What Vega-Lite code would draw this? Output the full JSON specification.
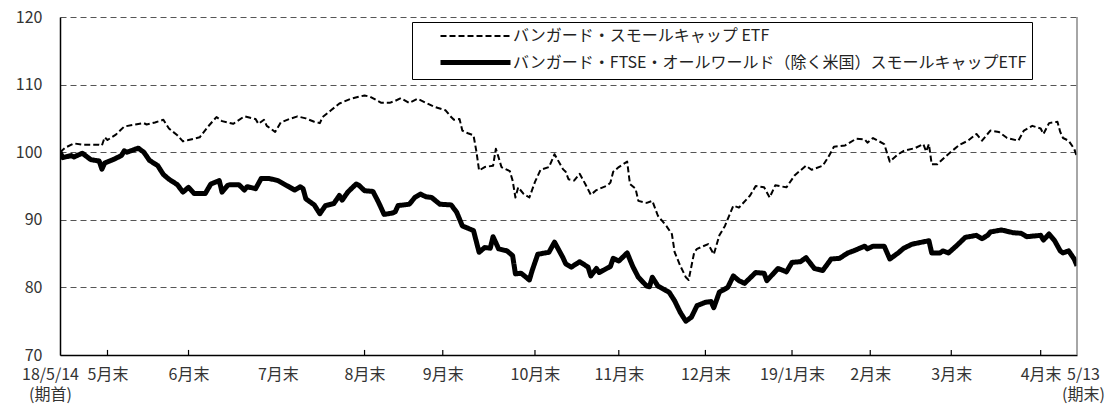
{
"$schema":"https://vega.github.io/schema/vega-lite/v6.json",
"width":1017,"height":338,
"autosize":"none",
"padding":{"left":60,"top":17,"right":30,"bottom":49},
"background":"white",
"config":{"view":{"stroke":null},"font":"Noto Sans CJK JP"},
"data":{"values":[
{"d":"2018-05-14","s":"a","v":100.0},{"d":"2018-05-16","s":"a","v":100.7},{"d":"2018-05-19","s":"a","v":101.3},{"d":"2018-05-22","s":"a","v":101.1},{"d":"2018-05-28","s":"a","v":101.1},{"d":"2018-05-29","s":"a","v":101.0},{"d":"2018-05-30","s":"a","v":102.2},{"d":"2018-05-31","s":"a","v":101.8},{"d":"2018-06-03","s":"a","v":102.6},{"d":"2018-06-06","s":"a","v":103.8},{"d":"2018-06-10","s":"a","v":104.1},{"d":"2018-06-13","s":"a","v":104.3},{"d":"2018-06-14","s":"a","v":104.1},{"d":"2018-06-17","s":"a","v":104.4},{"d":"2018-06-20","s":"a","v":104.8},{"d":"2018-06-22","s":"a","v":103.5},{"d":"2018-06-25","s":"a","v":102.5},{"d":"2018-06-27","s":"a","v":101.6},{"d":"2018-06-29","s":"a","v":101.8},{"d":"2018-07-03","s":"a","v":102.2},{"d":"2018-07-06","s":"a","v":103.8},{"d":"2018-07-09","s":"a","v":105.2},{"d":"2018-07-11","s":"a","v":104.6},{"d":"2018-07-15","s":"a","v":104.2},{"d":"2018-07-19","s":"a","v":105.3},{"d":"2018-07-23","s":"a","v":104.9},{"d":"2018-07-24","s":"a","v":104.2},{"d":"2018-07-26","s":"a","v":104.8},{"d":"2018-07-27","s":"a","v":103.9},{"d":"2018-07-30","s":"a","v":103.0},{"d":"2018-08-01","s":"a","v":104.4},{"d":"2018-08-04","s":"a","v":104.9},{"d":"2018-08-07","s":"a","v":105.3},{"d":"2018-08-10","s":"a","v":105.0},{"d":"2018-08-13","s":"a","v":104.5},{"d":"2018-08-15","s":"a","v":104.3},{"d":"2018-08-16","s":"a","v":105.2},{"d":"2018-08-19","s":"a","v":106.2},{"d":"2018-08-22","s":"a","v":107.2},{"d":"2018-08-26","s":"a","v":107.9},{"d":"2018-08-31","s":"a","v":108.4},{"d":"2018-09-02","s":"a","v":108.2},{"d":"2018-09-06","s":"a","v":107.3},{"d":"2018-09-09","s":"a","v":107.3},{"d":"2018-09-11","s":"a","v":107.6},{"d":"2018-09-13","s":"a","v":108.0},{"d":"2018-09-16","s":"a","v":107.3},{"d":"2018-09-19","s":"a","v":107.9},{"d":"2018-09-22","s":"a","v":107.3},{"d":"2018-09-25","s":"a","v":106.7},{"d":"2018-09-29","s":"a","v":106.2},{"d":"2018-10-01","s":"a","v":105.2},{"d":"2018-10-02","s":"a","v":104.8},{"d":"2018-10-04","s":"a","v":104.9},{"d":"2018-10-05","s":"a","v":103.2},{"d":"2018-10-07","s":"a","v":102.8},{"d":"2018-10-09","s":"a","v":102.5},{"d":"2018-10-10","s":"a","v":100.2},{"d":"2018-10-11","s":"a","v":97.3},{"d":"2018-10-13","s":"a","v":97.8},{"d":"2018-10-16","s":"a","v":98.0},{"d":"2018-10-17","s":"a","v":100.5},{"d":"2018-10-18","s":"a","v":99.2},{"d":"2018-10-19","s":"a","v":97.8},{"d":"2018-10-22","s":"a","v":97.2},{"d":"2018-10-23","s":"a","v":95.8},{"d":"2018-10-24","s":"a","v":93.3},{"d":"2018-10-25","s":"a","v":94.8},{"d":"2018-10-27","s":"a","v":93.8},{"d":"2018-10-29","s":"a","v":93.3},{"d":"2018-10-31","s":"a","v":95.6},{"d":"2018-11-02","s":"a","v":97.4},{"d":"2018-11-05","s":"a","v":97.8},{"d":"2018-11-07","s":"a","v":99.7},{"d":"2018-11-10","s":"a","v":97.5},{"d":"2018-11-11","s":"a","v":97.1},{"d":"2018-11-12","s":"a","v":96.0},{"d":"2018-11-14","s":"a","v":95.8},{"d":"2018-11-16","s":"a","v":96.8},{"d":"2018-11-18","s":"a","v":95.3},{"d":"2018-11-20","s":"a","v":93.7},{"d":"2018-11-22","s":"a","v":94.4},{"d":"2018-11-26","s":"a","v":95.1},{"d":"2018-11-27","s":"a","v":95.5},{"d":"2018-11-28","s":"a","v":97.1},{"d":"2018-11-30","s":"a","v":97.8},{"d":"2018-12-03","s":"a","v":98.6},{"d":"2018-12-04","s":"a","v":95.3},{"d":"2018-12-06","s":"a","v":94.6},{"d":"2018-12-07","s":"a","v":92.8},{"d":"2018-12-10","s":"a","v":92.5},{"d":"2018-12-12","s":"a","v":92.8},{"d":"2018-12-14","s":"a","v":90.6},{"d":"2018-12-17","s":"a","v":89.1},{"d":"2018-12-19","s":"a","v":87.9},{"d":"2018-12-20","s":"a","v":85.2},{"d":"2018-12-22","s":"a","v":83.2},{"d":"2018-12-24","s":"a","v":81.5},{"d":"2018-12-25","s":"a","v":81.1},{"d":"2018-12-27","s":"a","v":85.2},{"d":"2018-12-28","s":"a","v":85.7},{"d":"2019-01-01","s":"a","v":86.4},{"d":"2019-01-03","s":"a","v":84.9},{"d":"2019-01-05","s":"a","v":87.7},{"d":"2019-01-07","s":"a","v":89.1},{"d":"2019-01-10","s":"a","v":92.1},{"d":"2019-01-12","s":"a","v":91.8},{"d":"2019-01-16","s":"a","v":93.6},{"d":"2019-01-18","s":"a","v":95.0},{"d":"2019-01-21","s":"a","v":94.8},{"d":"2019-01-23","s":"a","v":93.3},{"d":"2019-01-25","s":"a","v":95.1},{"d":"2019-01-29","s":"a","v":94.8},{"d":"2019-02-01","s":"a","v":96.6},{"d":"2019-02-05","s":"a","v":98.0},{"d":"2019-02-07","s":"a","v":97.4},{"d":"2019-02-11","s":"a","v":98.0},{"d":"2019-02-13","s":"a","v":99.3},{"d":"2019-02-15","s":"a","v":100.8},{"d":"2019-02-19","s":"a","v":101.0},{"d":"2019-02-23","s":"a","v":102.0},{"d":"2019-02-26","s":"a","v":101.9},{"d":"2019-02-27","s":"a","v":101.4},{"d":"2019-03-01","s":"a","v":102.1},{"d":"2019-03-05","s":"a","v":101.2},{"d":"2019-03-07","s":"a","v":98.6},{"d":"2019-03-10","s":"a","v":99.7},{"d":"2019-03-12","s":"a","v":100.2},{"d":"2019-03-16","s":"a","v":100.6},{"d":"2019-03-19","s":"a","v":101.2},{"d":"2019-03-20","s":"a","v":100.1},{"d":"2019-03-21","s":"a","v":101.2},{"d":"2019-03-22","s":"a","v":98.2},{"d":"2019-03-24","s":"a","v":98.2},{"d":"2019-03-26","s":"a","v":99.0},{"d":"2019-03-29","s":"a","v":100.1},{"d":"2019-04-01","s":"a","v":101.1},{"d":"2019-04-04","s":"a","v":101.7},{"d":"2019-04-07","s":"a","v":102.7},{"d":"2019-04-09","s":"a","v":101.7},{"d":"2019-04-12","s":"a","v":103.2},{"d":"2019-04-15","s":"a","v":103.0},{"d":"2019-04-18","s":"a","v":102.1},{"d":"2019-04-22","s":"a","v":101.7},{"d":"2019-04-24","s":"a","v":103.2},{"d":"2019-04-27","s":"a","v":103.9},{"d":"2019-04-30","s":"a","v":103.5},{"d":"2019-05-01","s":"a","v":102.7},{"d":"2019-05-03","s":"a","v":104.3},{"d":"2019-05-06","s":"a","v":104.5},{"d":"2019-05-07","s":"a","v":103.0},{"d":"2019-05-08","s":"a","v":102.1},{"d":"2019-05-10","s":"a","v":101.7},{"d":"2019-05-12","s":"a","v":100.5},{"d":"2019-05-13","s":"a","v":99.3},
{"d":"2018-05-14","s":"b","v":100.0},{"d":"2018-05-15","s":"b","v":99.2},{"d":"2018-05-18","s":"b","v":99.5},{"d":"2018-05-19","s":"b","v":99.3},{"d":"2018-05-22","s":"b","v":99.85},{"d":"2018-05-25","s":"b","v":98.9},{"d":"2018-05-28","s":"b","v":98.7},{"d":"2018-05-29","s":"b","v":97.5},{"d":"2018-05-30","s":"b","v":98.4},{"d":"2018-06-02","s":"b","v":98.9},{"d":"2018-06-05","s":"b","v":99.5},{"d":"2018-06-06","s":"b","v":100.2},{"d":"2018-06-07","s":"b","v":100.0},{"d":"2018-06-11","s":"b","v":100.6},{"d":"2018-06-13","s":"b","v":100.0},{"d":"2018-06-15","s":"b","v":98.8},{"d":"2018-06-18","s":"b","v":98.0},{"d":"2018-06-20","s":"b","v":96.7},{"d":"2018-06-22","s":"b","v":96.0},{"d":"2018-06-25","s":"b","v":95.2},{"d":"2018-06-27","s":"b","v":94.1},{"d":"2018-06-29","s":"b","v":94.8},{"d":"2018-07-01","s":"b","v":93.9},{"d":"2018-07-05","s":"b","v":93.9},{"d":"2018-07-07","s":"b","v":95.3},{"d":"2018-07-10","s":"b","v":95.8},{"d":"2018-07-11","s":"b","v":94.1},{"d":"2018-07-13","s":"b","v":95.1},{"d":"2018-07-14","s":"b","v":95.2},{"d":"2018-07-17","s":"b","v":95.2},{"d":"2018-07-19","s":"b","v":94.4},{"d":"2018-07-20","s":"b","v":94.9},{"d":"2018-07-23","s":"b","v":94.6},{"d":"2018-07-25","s":"b","v":96.1},{"d":"2018-07-28","s":"b","v":96.1},{"d":"2018-07-31","s":"b","v":95.8},{"d":"2018-08-03","s":"b","v":95.1},{"d":"2018-08-06","s":"b","v":94.4},{"d":"2018-08-08","s":"b","v":94.9},{"d":"2018-08-09","s":"b","v":94.6},{"d":"2018-08-10","s":"b","v":93.1},{"d":"2018-08-13","s":"b","v":92.2},{"d":"2018-08-15","s":"b","v":90.9},{"d":"2018-08-17","s":"b","v":92.1},{"d":"2018-08-20","s":"b","v":92.4},{"d":"2018-08-22","s":"b","v":93.6},{"d":"2018-08-23","s":"b","v":92.9},{"d":"2018-08-25","s":"b","v":94.1},{"d":"2018-08-28","s":"b","v":95.3},{"d":"2018-08-29","s":"b","v":95.1},{"d":"2018-08-31","s":"b","v":94.3},{"d":"2018-09-03","s":"b","v":94.2},{"d":"2018-09-05","s":"b","v":92.6},{"d":"2018-09-07","s":"b","v":90.8},{"d":"2018-09-10","s":"b","v":91.0},{"d":"2018-09-11","s":"b","v":91.2},{"d":"2018-09-12","s":"b","v":92.1},{"d":"2018-09-16","s":"b","v":92.3},{"d":"2018-09-18","s":"b","v":93.3},{"d":"2018-09-20","s":"b","v":93.8},{"d":"2018-09-22","s":"b","v":93.4},{"d":"2018-09-24","s":"b","v":93.3},{"d":"2018-09-27","s":"b","v":92.3},{"d":"2018-10-01","s":"b","v":92.2},{"d":"2018-10-03","s":"b","v":91.1},{"d":"2018-10-05","s":"b","v":89.1},{"d":"2018-10-09","s":"b","v":88.4},{"d":"2018-10-11","s":"b","v":85.2},{"d":"2018-10-13","s":"b","v":85.9},{"d":"2018-10-15","s":"b","v":85.8},{"d":"2018-10-16","s":"b","v":87.5},{"d":"2018-10-18","s":"b","v":85.7},{"d":"2018-10-21","s":"b","v":85.4},{"d":"2018-10-23","s":"b","v":84.7},{"d":"2018-10-24","s":"b","v":82.0},{"d":"2018-10-26","s":"b","v":82.1},{"d":"2018-10-29","s":"b","v":81.1},{"d":"2018-10-30","s":"b","v":82.5},{"d":"2018-11-01","s":"b","v":84.9},{"d":"2018-11-05","s":"b","v":85.2},{"d":"2018-11-07","s":"b","v":86.7},{"d":"2018-11-10","s":"b","v":84.4},{"d":"2018-11-11","s":"b","v":83.5},{"d":"2018-11-13","s":"b","v":83.0},{"d":"2018-11-16","s":"b","v":83.8},{"d":"2018-11-19","s":"b","v":83.0},{"d":"2018-11-20","s":"b","v":81.7},{"d":"2018-11-22","s":"b","v":82.8},{"d":"2018-11-23","s":"b","v":82.2},{"d":"2018-11-27","s":"b","v":83.1},{"d":"2018-11-28","s":"b","v":84.3},{"d":"2018-11-30","s":"b","v":83.9},{"d":"2018-12-03","s":"b","v":85.1},{"d":"2018-12-05","s":"b","v":83.1},{"d":"2018-12-07","s":"b","v":81.5},{"d":"2018-12-10","s":"b","v":80.2},{"d":"2018-12-11","s":"b","v":80.1},{"d":"2018-12-12","s":"b","v":81.5},{"d":"2018-12-14","s":"b","v":80.2},{"d":"2018-12-17","s":"b","v":79.5},{"d":"2018-12-18","s":"b","v":79.3},{"d":"2018-12-20","s":"b","v":78.0},{"d":"2018-12-22","s":"b","v":76.3},{"d":"2018-12-24","s":"b","v":75.0},{"d":"2018-12-26","s":"b","v":75.6},{"d":"2018-12-28","s":"b","v":77.3},{"d":"2018-12-31","s":"b","v":77.8},{"d":"2019-01-02","s":"b","v":77.9},{"d":"2019-01-03","s":"b","v":77.0},{"d":"2019-01-05","s":"b","v":79.3},{"d":"2019-01-08","s":"b","v":80.0},{"d":"2019-01-10","s":"b","v":81.7},{"d":"2019-01-12","s":"b","v":81.0},{"d":"2019-01-14","s":"b","v":80.6},{"d":"2019-01-18","s":"b","v":82.2},{"d":"2019-01-21","s":"b","v":82.1},{"d":"2019-01-22","s":"b","v":81.0},{"d":"2019-01-26","s":"b","v":82.8},{"d":"2019-01-29","s":"b","v":82.3},{"d":"2019-01-31","s":"b","v":83.7},{"d":"2019-02-03","s":"b","v":83.8},{"d":"2019-02-05","s":"b","v":84.4},{"d":"2019-02-08","s":"b","v":82.8},{"d":"2019-02-11","s":"b","v":82.5},{"d":"2019-02-14","s":"b","v":84.2},{"d":"2019-02-17","s":"b","v":84.3},{"d":"2019-02-20","s":"b","v":85.1},{"d":"2019-02-22","s":"b","v":85.4},{"d":"2019-02-26","s":"b","v":86.1},{"d":"2019-02-27","s":"b","v":85.7},{"d":"2019-03-01","s":"b","v":86.1},{"d":"2019-03-05","s":"b","v":86.1},{"d":"2019-03-07","s":"b","v":84.2},{"d":"2019-03-10","s":"b","v":85.1},{"d":"2019-03-12","s":"b","v":85.8},{"d":"2019-03-15","s":"b","v":86.4},{"d":"2019-03-21","s":"b","v":86.9},{"d":"2019-03-22","s":"b","v":85.1},{"d":"2019-03-25","s":"b","v":85.1},{"d":"2019-03-26","s":"b","v":85.4},{"d":"2019-03-28","s":"b","v":85.1},{"d":"2019-03-31","s":"b","v":86.2},{"d":"2019-04-03","s":"b","v":87.4},{"d":"2019-04-07","s":"b","v":87.7},{"d":"2019-04-09","s":"b","v":87.2},{"d":"2019-04-11","s":"b","v":87.7},{"d":"2019-04-12","s":"b","v":88.2},{"d":"2019-04-16","s":"b","v":88.5},{"d":"2019-04-20","s":"b","v":88.1},{"d":"2019-04-23","s":"b","v":88.0},{"d":"2019-04-25","s":"b","v":87.5},{"d":"2019-04-30","s":"b","v":87.7},{"d":"2019-05-01","s":"b","v":87.0},{"d":"2019-05-03","s":"b","v":87.9},{"d":"2019-05-05","s":"b","v":86.9},{"d":"2019-05-07","s":"b","v":85.4},{"d":"2019-05-08","s":"b","v":85.1},{"d":"2019-05-10","s":"b","v":85.4},{"d":"2019-05-12","s":"b","v":84.2},{"d":"2019-05-13","s":"b","v":83.2}
]},
"layer":[
{"mark":{"type":"line","color":"black","strokeJoin":"round","clip":true},
 "encoding":{
  "x":{"field":"d","type":"temporal","title":null,
   "scale":{"type":"utc","domain":[{"year":2018,"month":5,"date":14,"utc":true},{"year":2019,"month":5,"date":13,"utc":true}]},
   "axis":{"values":[{"year":2018,"month":5,"date":14,"utc":true},{"year":2018,"month":5,"date":31,"utc":true},{"year":2018,"month":6,"date":29,"utc":true},{"year":2018,"month":7,"date":31,"utc":true},{"year":2018,"month":8,"date":31,"utc":true},{"year":2018,"month":9,"date":28,"utc":true},{"year":2018,"month":10,"date":31,"utc":true},{"year":2018,"month":11,"date":30,"utc":true},{"year":2018,"month":12,"date":31,"utc":true},{"year":2019,"month":1,"date":31,"utc":true},{"year":2019,"month":2,"date":28,"utc":true},{"year":2019,"month":3,"date":29,"utc":true},{"year":2019,"month":4,"date":30,"utc":true},{"year":2019,"month":5,"date":13,"utc":true}],
    "labelExpr":"utcFormat(datum.value,'%Y-%m-%d')=='2018-05-14' ? ['18/5/14','(期首)'] : utcFormat(datum.value,'%Y-%m-%d')=='2019-05-13' ? ['5/13','(期末)'] : utcFormat(datum.value,'%Y-%m')=='2019-01' ? '19/1月末' : (utcmonth(datum.value)+1)+'月末'",
    "labelOffset":{"condition":[{"test":"utcFormat(datum.value,'%m-%d')=='05-14'","value":-10},{"test":"utcFormat(datum.value,'%m-%d')=='05-13'","value":6}],"value":0},
    "labelFlush":false,"labelOverlap":false,"labelFontSize":16,"labelColor":"#333","labelLineHeight":20,
    "labelPadding":11,"ticks":false,"domainColor":"black","domainWidth":1.5,"grid":false,"labelAngle":0}},
  "y":{"field":"v","type":"quantitative","title":null,
   "scale":{"domain":[70,120],"nice":false,"zero":false},
   "axis":{"values":[70,80,90,100,110,120],"ticks":false,"labelPadding":18,"labelFontSize":16,"labelColor":"#333",
    "domainColor":"black","domainWidth":1.5,"grid":true,"gridDash":[6,4],"gridColor":"#555","gridWidth":1}},
  "strokeDash":{"field":"s","type":"nominal","scale":{"domain":["a","b"],"range":[[6,3],[1,0]]},
   "legend":{"title":null,"orient":"none","legendX":352,"legendY":5,"symbolType":"M-5,0H5","symbolSize":196,"symbolStrokeColor":"black",
    "labelExpr":"datum.value=='a' ? 'バンガード・スモールキャップ ETF' : 'バンガード・FTSE・オールワールド（除く米国）スモールキャップETF'",
    "labelLimit":0,"labelFontSize":16,"labelColor":"#222","strokeColor":"black","fillColor":"white","padding":6,"symbolOffset":48,"labelOffset":28,"rowPadding":8}},
  "strokeWidth":{"field":"s","type":"nominal","scale":{"domain":["a","b"],"range":[2,5]}}
 }},
{"data":{"values":[{"t":"2018-05-31"},{"t":"2018-06-29"},{"t":"2018-08-31"},{"t":"2018-09-28"},{"t":"2018-10-31"},{"t":"2018-11-30"},{"t":"2018-12-31"},{"t":"2019-01-31"},{"t":"2019-02-28"},{"t":"2019-03-29"},{"t":"2019-04-30"}]},
 "mark":{"type":"rule","color":"black","strokeWidth":1.2},
 "encoding":{"x":{"field":"t","type":"temporal"},"y":{"datum":70},"y2":{"datum":70.75}}},
{"data":{"values":[{"d":"2019-05-13"}]},
 "mark":{"type":"rule","color":"#888","strokeWidth":1.5},
 "encoding":{"x":{"field":"d","type":"temporal"}}}
]
}
